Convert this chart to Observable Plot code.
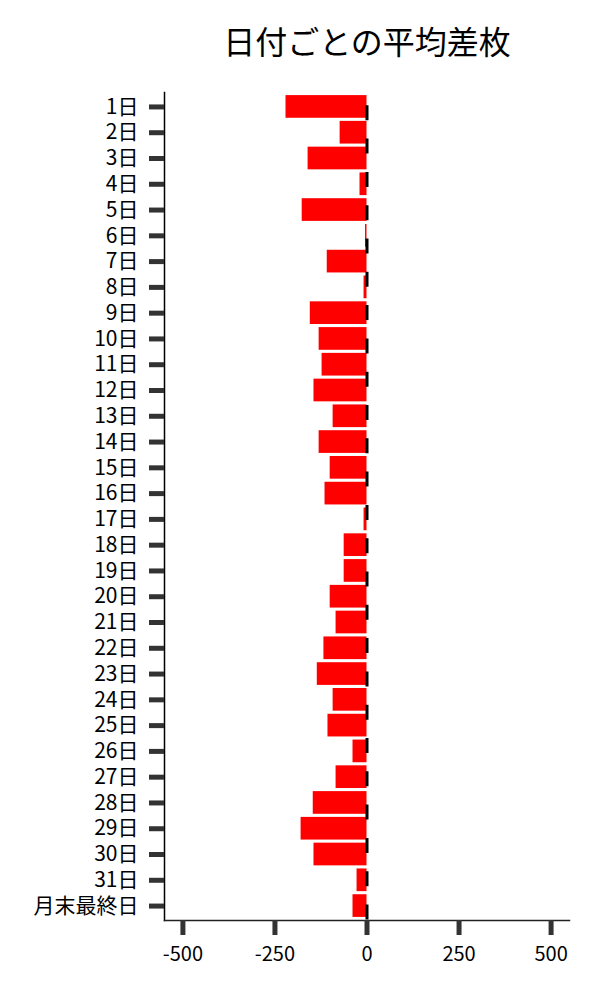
<!DOCTYPE html>
<html>
<head>
<meta charset="utf-8">
<script src="https://cdn.jsdelivr.net/npm/d3@7"></script>
<script src="https://cdn.jsdelivr.net/npm/@observablehq/plot@0.6"></script>
<style>
  html, body { margin: 0; padding: 0; background: #fff; }
  #chart svg { display: block; }
</style>
</head>
<body>
<div id="chart"></div>
<script>
const title = "日付ごとの平均差枚";
const days = ["1日","2日","3日","4日","5日","6日","7日","8日","9日","10日","11日","12日","13日","14日","15日","16日","17日","18日","19日","20日","21日","22日","23日","24日","25日","26日","27日","28日","29日","30日","31日","月末最終日"];
const avgDiff = [-220,-73,-160,-19,-176,-4,-108,-8,-154,-130,-122,-144,-92,-130,-100,-114,-8,-62,-62,-100,-84,-117,-135,-92,-106,-38,-84,-146,-179,-144,-27,-38];
const xTicks = [-500,-250,0,250,500];

const data = days.map((d, i) => ({day: d, value: avgDiff[i]}));

const chart = Plot.plot({
  width: 600,
  height: 1000,
  marginTop: 92,
  marginBottom: 80,
  marginLeft: 164,
  marginRight: 31,
  style: {fontFamily: "'Noto Sans CJK JP', 'Noto Sans', sans-serif", fontSize: "21px", background: "#fff", color: "#000"},
  x: {domain: [-550, 550]},
  y: {domain: days, padding: 0.12, round: false},
  marks: [
    Plot.barX(data, {x: "value", y: "day", fill: "#ff0000"}),
    Plot.ruleX([0], {stroke: "#000", strokeWidth: 3, strokeDasharray: "15,18.3", strokeDashoffset: 20}),
    Plot.frame({anchor: "left", stroke: "#000", strokeWidth: 1.5}),
    Plot.frame({anchor: "bottom", stroke: "#222", strokeWidth: 1.5}),
    Plot.axisY({tickSize: 15, tickPadding: 11, stroke: "#333", strokeWidth: 5, fill: "#000", fontSize: 21, label: null}),
    Plot.axisX({ticks: xTicks, tickFormat: d => String(d), tickSize: 15, tickPadding: 11, stroke: "#333", strokeWidth: 5, fill: "#000", fontSize: 20, label: null}),
    Plot.text([title], {frameAnchor: "top", dy: -49, lineAnchor: "middle", fontSize: 32, fill: "#000"})
  ]
});
document.getElementById("chart").appendChild(chart);
</script>
</body>
</html>
